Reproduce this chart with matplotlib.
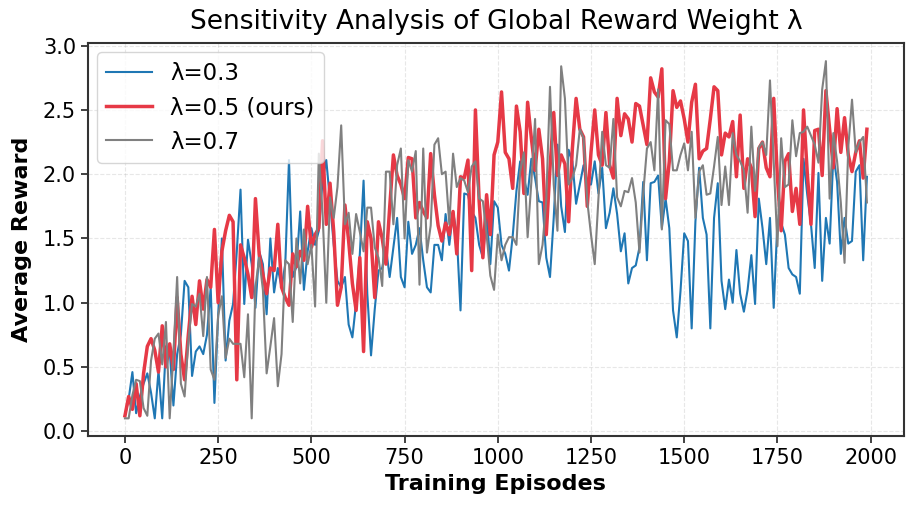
import numpy as np
import matplotlib
matplotlib.use("Agg")
import matplotlib.pyplot as plt

episodes = np.arange(0, 2000, 10)

# lambda = 0.3
reward_03 = [
    0.12, 0.25, 0.46, 0.14, 0.27, 0.37, 0.45, 0.30, 0.10, 0.47,
    0.10, 0.66, 0.63, 0.20, 0.60, 0.75, 1.17, 1.12, 0.43, 0.62,
    0.66, 0.60, 0.75, 1.12, 0.22, 0.90, 1.50, 0.55, 0.86, 0.99,
    1.40, 1.88, 0.99, 1.49, 1.30, 0.96, 1.40, 1.30, 0.91, 1.50,
    1.08, 1.27, 1.12, 1.30, 2.11, 1.20, 1.28, 1.71, 1.10, 1.40,
    1.58, 1.45, 1.56, 1.95, 2.11, 1.79, 1.45, 1.17, 1.12, 1.20,
    0.83, 0.73, 1.00, 1.38, 1.95, 1.07, 0.59, 0.95, 1.25, 1.27,
    1.43, 1.20, 1.43, 1.66, 1.20, 1.12, 1.63, 1.38, 1.45, 1.58,
    1.33, 1.12, 1.08, 1.45, 1.45, 1.33, 1.69, 1.45, 1.71, 1.53,
    0.94, 1.85, 1.84, 1.71, 1.66, 1.45, 1.35, 1.69, 1.30, 1.79,
    1.74, 1.45, 1.38, 1.25, 1.52, 1.87, 2.10, 1.97, 1.84, 2.12,
    1.97, 1.79, 1.78, 1.35, 1.20, 1.66, 2.23, 1.75, 1.55, 2.19,
    2.10, 1.77, 1.92, 2.07, 1.92, 1.92, 2.10, 1.85, 2.05, 1.58,
    1.70, 1.89, 1.69, 1.40, 1.54, 1.15, 1.27, 1.29, 1.43, 1.94,
    1.33, 1.93, 1.94, 1.99, 1.58, 1.81, 1.58, 0.94, 0.73, 1.09,
    1.54, 1.48, 0.80, 1.63, 2.05, 1.66, 1.53, 0.80, 1.66, 1.93,
    1.17, 0.95, 1.18, 1.00, 1.41, 1.07, 0.93, 1.10, 1.37, 0.99,
    1.81, 1.58, 1.30, 1.66, 0.96, 1.63, 1.62, 1.53, 1.27, 1.22,
    1.20, 1.07, 2.12, 1.84, 1.61, 1.27, 2.01, 1.17, 1.66, 1.46,
    2.15, 1.94, 1.38, 1.66, 1.46, 1.48, 2.02, 2.07, 1.33, 1.98,
]

# lambda = 0.5 (ours)
reward_05 = [
    0.12, 0.27, 0.17, 0.37, 0.12, 0.45, 0.66, 0.72, 0.63, 0.46,
    0.82, 0.50, 0.68, 0.48, 1.04, 0.60, 0.40, 0.75, 1.05, 0.83,
    1.17, 0.95, 1.18, 1.12, 1.57, 1.00, 1.40, 1.56, 1.68, 1.63,
    0.40, 1.45, 1.35, 1.22, 1.04, 1.81, 1.38, 1.22, 1.07, 1.27,
    1.25, 1.61, 1.12, 1.04, 0.98, 1.38, 1.28, 1.40, 1.33, 1.75,
    1.43, 1.53, 1.58, 2.26, 1.61, 1.93, 1.55, 0.98, 1.12, 1.76,
    1.48, 1.15, 0.94, 1.35, 0.62, 1.63, 1.50, 1.04, 1.63, 1.50,
    1.30, 1.74, 2.15, 1.99, 1.92, 1.81, 2.13, 2.12, 1.66, 1.78,
    1.71, 1.66, 2.16, 1.84, 1.60, 1.48, 1.62, 1.53, 1.71, 1.38,
    1.98, 1.97, 2.11, 1.25, 2.50, 1.79, 1.35, 1.84, 1.53, 2.15,
    2.25, 2.64, 2.17, 2.12, 1.89, 2.53, 2.33, 1.85, 2.56, 2.28,
    2.03, 2.35, 2.12, 1.53, 2.05, 2.48, 1.99, 2.15, 2.08, 1.63,
    2.20, 2.59, 2.35, 2.29, 1.75, 2.17, 2.50, 2.15, 2.07, 2.48,
    2.07, 1.97, 2.59, 2.30, 2.47, 2.43, 2.25, 2.55, 2.53, 2.38,
    2.23, 2.75, 2.64, 2.60, 2.82, 1.81, 2.10, 2.65, 2.52, 2.57,
    2.43, 2.25, 2.56, 2.70, 2.12, 2.18, 2.20, 2.43, 2.68, 2.65,
    2.15, 2.32, 2.29, 2.41, 1.98, 2.46, 1.89, 2.12, 2.05, 1.67,
    2.20, 2.25, 2.05, 1.98, 2.59, 1.97, 1.56, 2.10, 2.16, 1.71,
    1.89, 1.61, 2.50, 2.01, 1.61, 2.34, 2.35, 1.99, 2.65, 2.35,
    2.05, 2.51, 2.17, 2.44, 2.15, 2.02, 2.17, 2.26, 1.97, 2.35,
]

# lambda = 0.7
reward_07 = [
    0.10, 0.10, 0.28, 0.40, 0.39, 0.18, 0.12, 0.55, 0.72, 0.76,
    0.52, 0.85, 0.10, 0.60, 1.20, 0.37, 0.27, 0.70, 0.99, 0.97,
    1.07, 0.74, 1.20, 0.48, 0.40, 0.90, 1.05, 0.57, 0.72, 0.68,
    0.68, 0.68, 0.42, 0.91, 0.10, 1.12, 1.35, 1.10, 0.45, 0.66,
    0.88, 0.35, 0.60, 1.33, 1.30, 0.85, 1.50, 1.15, 1.57, 1.30,
    1.45, 0.97, 2.16, 1.70, 1.00, 1.82, 1.66, 1.90, 2.38, 1.61,
    1.70, 1.38, 1.69, 1.55, 1.40, 1.74, 1.74, 1.43, 1.35, 1.13,
    2.02, 2.02, 1.61, 2.07, 2.20, 1.50, 2.11, 2.02, 2.18, 1.14,
    2.20, 1.39, 1.60, 2.23, 2.28, 2.00, 2.02, 1.61, 2.16, 1.90,
    1.97, 1.95, 1.86, 2.06, 2.10, 1.81, 1.79, 1.53, 1.21, 1.10,
    1.53, 1.33, 1.45, 1.51, 1.51, 1.45, 2.02, 2.17, 1.51, 1.94,
    2.43, 1.30, 1.45, 1.80, 2.68, 1.92, 1.56, 2.84, 2.59, 1.92,
    1.97, 2.07, 2.35, 2.28, 1.79, 1.53, 1.30, 1.82, 2.33, 2.07,
    2.05, 2.43, 1.82, 1.75, 1.87, 1.86, 1.97, 1.78, 1.39, 1.85,
    2.20, 2.25, 2.03, 2.66, 1.57, 2.42, 2.39, 2.03, 2.03, 2.15,
    2.24, 2.03, 2.33, 1.66, 2.02, 2.07, 1.84, 1.85, 2.06, 2.29,
    1.76, 2.06, 1.76, 2.32, 2.15, 2.10, 2.03, 1.70, 2.37, 1.87,
    2.21, 2.25, 2.15, 2.73, 2.10, 1.44, 2.28, 1.90, 1.92, 2.42,
    2.14, 2.32, 2.33, 2.37, 2.30, 2.23, 2.09, 2.66, 2.88, 1.81,
    2.32, 2.10, 1.78, 1.31, 2.21, 2.58, 2.17, 2.25, 2.29, 1.78,
]

labels = ["λ=0.3", "λ=0.5 (ours)", "λ=0.7"]

fig, ax = plt.subplots(figsize=(9.15, 5.09), dpi=100)
fig.subplots_adjust(left=0.096, right=0.988, top=0.915, bottom=0.143)

ax.plot(episodes[:len(reward_03)], reward_03, color="#1f77b4", lw=1.5, label=labels[0])
ax.plot(episodes[:len(reward_05)], reward_05, color="#e63946", lw=2.5, label=labels[1])
ax.plot(episodes[:len(reward_07)], reward_07, color="#808080", lw=1.5, label=labels[2])

ax.set_title("Sensitivity Analysis of Global Reward Weight λ", fontsize=19, pad=10)
ax.set_xlabel("Training Episodes", fontsize=16, fontweight="bold")
ax.set_ylabel("Average Reward", fontsize=16, fontweight="bold", labelpad=8)
ax.tick_params(labelsize=15, color="#333333", width=1.3, length=5)
for sp in ax.spines.values():
    sp.set_color("#333333")
    sp.set_linewidth(1.5)
ax.grid(True, linestyle="--", alpha=0.3)
ax.legend(loc="upper left", fontsize=16.5, borderaxespad=0.4)

fig.savefig("out.png", dpi=100)
